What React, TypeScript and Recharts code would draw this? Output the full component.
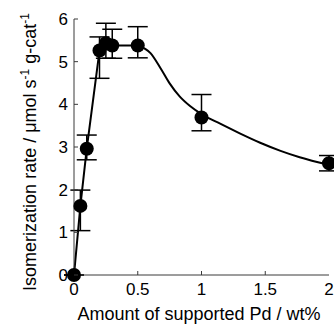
import { ComposedChart, Line, XAxis, YAxis, ErrorBar } from 'recharts'

// measured points
const loadings = [0, 0.05, 0.1, 0.2, 0.25, 0.3, 0.5, 1, 2]
const rates = [0, 1.62, 2.96, 5.26, 5.43, 5.38, 5.38, 3.69, 2.62]
const errUpper = [0, 1.99, 3.28, 5.58, 5.9, 5.76, 5.82, 4.23, 2.8]
const errLower = [0, 1.04, 2.7, 4.61, 5.08, 5.08, 5.09, 3.38, 2.44]

// guide curve beyond 0.5 wt%
const fitX = [0.5, 0.6, 0.68, 0.75, 0.83, 0.91, 1, 1.15, 1.3, 1.46, 1.62, 1.77, 2]
const fitY = [5.38, 5.2, 4.84, 4.49, 4.18, 3.96, 3.77, 3.54, 3.32, 3.1, 2.91, 2.76, 2.58]

const xTicks = [0, 0.5, 1, 1.5, 2]
const yTicks = [0, 1, 2, 3, 4, 5, 6]

const points = loadings.map((x, i) => ({
  x,
  rate: rates[i],
  err: [rates[i] - errLower[i], errUpper[i] - rates[i]],
}))
const lowPart = points.filter(p => p.x <= 0.5)
const fit = fitX.map((x, i) => ({ x, rate: fitY[i] }))

const FONT = '"Liberation Sans", Arial, sans-serif'
const AXIS = '#3a3a3a'

const YTick = ({ x, y, payload }: any) => (
  <g>
    <line x1={x + 6} x2={x + 10} y1={y} y2={y} stroke={AXIS} />
    <text x={x} y={y} dy={6} textAnchor="end" fontSize={17} fontFamily={FONT} fill="#000">
      {payload.value}
    </text>
  </g>
)

const XTick = ({ x, y, payload }: any) => (
  <g>
    {payload.value !== 0 && payload.value !== 2 && (
      <line x1={x} x2={x} y1={y} y2={y - 4} stroke={AXIS} />
    )}
    <text x={x} y={y} dy={20} textAnchor="middle" fontSize={17} fontFamily={FONT} fill="#000">
      {payload.value}
    </text>
  </g>
)

const Dot = ({ cx, cy }: any) => <circle cx={cx} cy={cy} r={7} fill="#000" />

export default function App() {
  return (
    <div style={{ position: 'absolute', left: 0, top: 0 }}>
      <div style={{ position: 'relative', width: 334, height: 324 }}>
        <ComposedChart width={334} height={324} margin={{ top: 19, right: 5, left: 0, bottom: 0 }}>
          <XAxis
            dataKey="x"
            type="number"
            domain={[0, 2]}
            ticks={xTicks}
            height={49}
            tickSize={0}
            tickMargin={0}
            tickLine={false}
            axisLine={{ stroke: AXIS }}
            tick={<XTick />}
            allowDuplicatedCategory={false}
          />
          <XAxis xAxisId="top" dataKey="x" type="number" domain={[0, 2]} orientation="top" height={0} tick={false} tickLine={false} axisLine={{ stroke: AXIS }} />
          <YAxis
            type="number"
            domain={[0, 6]}
            ticks={yTicks}
            width={74}
            tickSize={0}
            tickMargin={6}
            tickLine={false}
            axisLine={{ stroke: AXIS }}
            tick={<YTick />}
          />
          <YAxis yAxisId="right" type="number" domain={[0, 6]} orientation="right" width={0} tick={false} tickLine={false} axisLine={{ stroke: AXIS }} />
          <Line data={lowPart} dataKey="rate" type="linear" stroke="#000" strokeWidth={2} dot={false} activeDot={false} isAnimationActive={false} />
          <Line data={fit} dataKey="rate" type="monotone" stroke="#000" strokeWidth={2} dot={false} activeDot={false} isAnimationActive={false} />
          <Line
            data={points}
            dataKey="rate"
            stroke="none"
            dot={<Dot />}
            activeDot={false}
            isAnimationActive={false}
          >
            <ErrorBar dataKey="err" width={10} stroke="#000" strokeWidth={1.5} direction="y" isAnimationActive={false} />
          </Line>
        </ComposedChart>
        <svg width={334} height={324} style={{ position: 'absolute', left: 0, top: 0, pointerEvents: 'none' }}>
          <text x={199} y={320} textAnchor="middle" fontSize={18} fontFamily={FONT} fill="#000">
            Amount of supported Pd / wt%
          </text>
          <text transform="translate(36,152) rotate(-90)" textAnchor="middle" fontSize={18} fontFamily={FONT} fill="#000">
            Isomerization rate / μmol s<tspan dy={-7} fontSize={12}>-1</tspan>
            <tspan dy={7}> g-cat</tspan>
            <tspan dy={-7} fontSize={12}>-1</tspan>
          </text>
        </svg>
      </div>
    </div>
  )
}
